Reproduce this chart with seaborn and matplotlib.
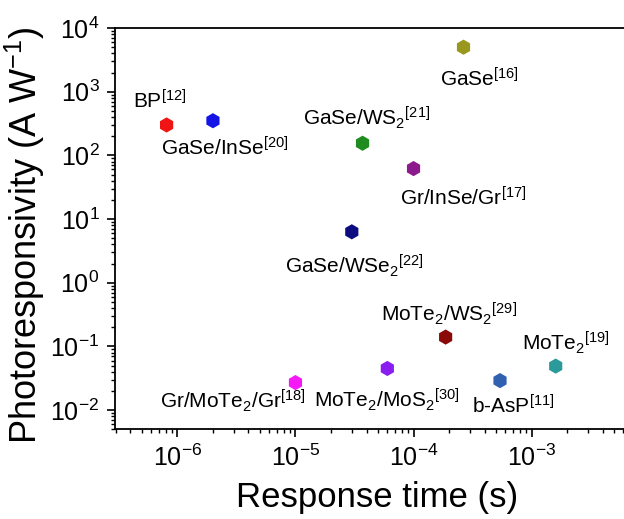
import numpy as np
import pandas as pd
import seaborn as sns
import matplotlib
matplotlib.use("Agg")
from matplotlib import pyplot as plt
import matplotlib.ticker as ticker

# data
materials = ["BP", "GaSe/InSe", "GaSe", "GaSe/WS2", "Gr/InSe/Gr", "GaSe/WSe2",
             "MoTe2/WS2", "MoTe2", "b-AsP", "MoTe2/MoS2", "Gr/MoTe2/Gr"]
labels = [r"BP$^{[12]}$", r"GaSe/InSe$^{[20]}$", r"GaSe$^{[16]}$", r"GaSe/WS$_2$$^{[21]}$",
          r"Gr/InSe/Gr$^{[17]}$", r"GaSe/WSe$_2$$^{[22]}$", r"MoTe$_2$/WS$_2$$^{[29]}$",
          r"MoTe$_2$$^{[19]}$", r"b-AsP$^{[11]}$", r"MoTe$_2$/MoS$_2$$^{[30]}$",
          r"Gr/MoTe$_2$/Gr$^{[18]}$"]
response_time = [8.1e-7, 2.0e-6, 2.65e-4, 3.7e-5, 1.0e-4, 3.0e-5,
                 1.87e-4, 1.6e-3, 5.4e-4, 6.0e-5, 1.0e-5]
photoresp = [300, 350, 5000, 155, 62, 6.3, 0.14, 0.049, 0.029, 0.045, 0.027]
colors = ["#f01414", "#1414e6", "#98981e", "#1e8c1e", "#8c1a8c", "#0c0c80",
          "#8a0a0a", "#2a9a9a", "#3060b0", "#8a1ef0", "#f51af5"]
# label offsets (pixels) relative to each point
label_dx = [-34, -52, -24, -60, -14, -67, -65, -34, -28, -73, -135]
label_dy = [16, -35, -39, 18, -37, -41, 16, 16, -33, -39, -26]

df = pd.DataFrame({"material": materials, "t": response_time, "R": photoresp})

sns.set_style("ticks")
plt.rcParams["font.family"] = ["Liberation Sans", "DejaVu Sans"]
plt.rcParams["mathtext.fontset"] = "custom"
plt.rcParams["mathtext.rm"] = "Liberation Sans"
plt.rcParams["mathtext.it"] = "Liberation Sans:italic"
plt.rcParams["mathtext.bf"] = "Liberation Sans:bold"
plt.rcParams["text.color"] = "black"
plt.rcParams["axes.labelcolor"] = "black"
plt.rcParams["xtick.color"] = "black"
plt.rcParams["ytick.color"] = "black"
plt.rcParams["axes.edgecolor"] = "black"

fig = plt.figure(figsize=(6.24, 5.19), dpi=100)
ax = fig.add_axes([0.184, 0.173, 0.842, 0.773])

sns.scatterplot(data=df, x="t", y="R", hue="material", palette=dict(zip(materials, colors)),
                marker="h", s=120, linewidth=0, legend=False, ax=ax)
ax.set_xscale("log")
ax.set_yscale("log")
ax.set_xlim(10 ** -6.53, 10 ** -2.08)
ax.set_ylim(5e-3, 1e4)

for i, lab in enumerate(labels):
    ax.annotate(lab, (response_time[i], photoresp[i]), xytext=(label_dx[i], label_dy[i]),
                textcoords="offset pixels", ha="left", va="baseline", fontsize=15)

ax.xaxis.set_major_locator(ticker.LogLocator(base=10, numticks=10))
ax.yaxis.set_major_locator(ticker.LogLocator(base=10, numticks=10))
ax.xaxis.set_minor_locator(ticker.LogLocator(base=10, subs=np.arange(2, 10), numticks=20))
ax.yaxis.set_minor_locator(ticker.LogLocator(base=10, subs=np.arange(2, 10), numticks=20))
ax.xaxis.set_minor_formatter(ticker.NullFormatter())
ax.yaxis.set_minor_formatter(ticker.NullFormatter())

ax.tick_params(which="major", direction="out", length=6, width=1.2, labelsize=18, pad=5)
ax.tick_params(which="minor", direction="out", length=3, width=1.0)
for side in ["left", "bottom", "top"]:
    ax.spines[side].set_linewidth(1.3)
ax.spines["right"].set_visible(False)

ax.set_xlabel("Response time (s)", fontsize=25, labelpad=7)
ax.set_ylabel(r"Photoresponsivity (A W$^{-1}$)", fontsize=26, labelpad=2)
ax.yaxis.set_label_coords(-0.13, 0.484)

fig.savefig("out.png", dpi=100)
